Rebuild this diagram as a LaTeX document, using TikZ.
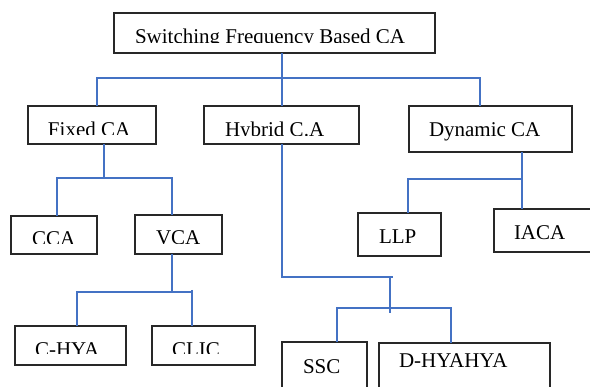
\documentclass[tikz,border=0pt]{standalone}
\usepackage{fontspec}
\setmainfont{Liberation Serif}
\definecolor{linkblue}{RGB}{68,114,196}
\definecolor{boxline}{RGB}{40,40,40}
\tikzset{
  x=1pt, y=-1pt,
  box/.style={draw=boxline, line width=1.2pt, fill=white, inner sep=0pt, outer sep=0pt, anchor=north west},
  lbl/.style={inner sep=0pt, outer sep=0pt, anchor=base west, font=\fontsize{21}{25}\selectfont},
  link/.style={draw=linkblue, line width=1.8pt},
}
% label whose lower part is cut off at height #4
\newcommand{\cutlabel}[5]{%
  \begin{scope}
    \clip (-20,-20) rectangle (620,#4);
    \node[lbl] (#1) at (#2,#3) {#5};
  \end{scope}}
\begin{document}
\begin{tikzpicture}
\useasboundingbox (0,0) rectangle (590,387);
\begin{scope}
\clip (0,0) rectangle (590,387);

% boxes
\node[box, minimum width=321pt, minimum height=40pt] (top)    at (114,13)  {};
\node[box, minimum width=128pt, minimum height=38pt] (fixed)  at (28,106)  {};
\node[box, minimum width=155pt, minimum height=38pt] (hybrid) at (204,106) {};
\node[box, minimum width=163pt, minimum height=46pt] (dyn)    at (409,106) {};
\node[box, minimum width=86pt,  minimum height=38pt] (cca)    at (11,216)  {};
\node[box, minimum width=87pt,  minimum height=39pt] (vca)    at (135,215) {};
\node[box, minimum width=83pt,  minimum height=43pt] (llp)    at (358,213) {};
\node[box, minimum width=110pt, minimum height=43pt] (iaca)   at (494,209) {};
\node[box, minimum width=111pt, minimum height=39pt] (chya)   at (15,326)  {};
\node[box, minimum width=103pt, minimum height=39pt] (clic)   at (152,326) {};
\node[box, minimum width=85pt,  minimum height=60pt] (ssc)    at (282,342) {};
\node[box, minimum width=171pt, minimum height=60pt] (dhya)   at (379,343) {};

% junction points
\coordinate (j0) at (282,78);
\coordinate (jf) at (104,178);
\coordinate (jv) at (172,292);
\coordinate (jh) at (282,277);
\coordinate (jh2) at (390,277);
\coordinate (js) at (390,308);
\coordinate (jd) at (522,179);

% top level
\draw[link] (top.south -| j0) -- (j0);
\draw[link] (fixed.north -| 97,0) -- (97,78) -- (480,78) -- (dyn.north -| 480,0);
\draw[link] (j0) -- (hybrid.north -| j0);

% fixed CA
\draw[link] (fixed.south -| jf) -- (jf);
\draw[link] (cca.north -| 57,0) -- (57,178) -- (172,178) -- (vca.north -| 172,0);

% VCA
\draw[link] (vca.south -| jv) -- (jv);
\draw[link] (chya.north -| 77,0) -- (77,292) -- (192,292) -- (192,290);
\draw[link] (192,290) -- (clic.north -| 192,0);

% hybrid CA
\draw[link] (hybrid.south -| jh) -- (jh) -- (393,277);
\draw[link] (jh2) -- (390,313);
\draw[link] (ssc.north -| 337,0) -- (337,308) -- (451,308) -- (dhya.north -| 451,0);

% dynamic CA
\draw[link] (dyn.south -| jd) -- (iaca.north -| jd);
\draw[link] (llp.north -| 408,0) -- (408,179) -- (jd);

% labels
\cutlabel{top-t}{135}{43.5}{43}{Switching Frequency Based CA}
\cutlabel{fixed-t}{48}{137}{135}{Fixed CA}
\cutlabel{hybrid-t}{225}{136.5}{135.3}{Hybrid C.A}
\node[lbl] (dyn-t) at (429,136.7) {Dynamic CA};
\cutlabel{cca-t}{32}{246}{243.3}{CCA}
\cutlabel{vca-t}{156}{244.7}{243.3}{VCA}
\node[lbl] (llp-t) at (379,243.3) {LLP};
\node[lbl] (iaca-t) at (514,239.5) {IACA};
\cutlabel{chya-t}{35}{356.3}{353.3}{C-HYA}
\cutlabel{clic-t}{172}{356.3}{353.3}{CLIC}
\node[lbl] (ssc-t) at (303,373.3) {SSC};
\node[lbl] (dhya-t) at (399,367.3) {D-HYAHYA};
\end{scope}
\end{tikzpicture}
\end{document}
